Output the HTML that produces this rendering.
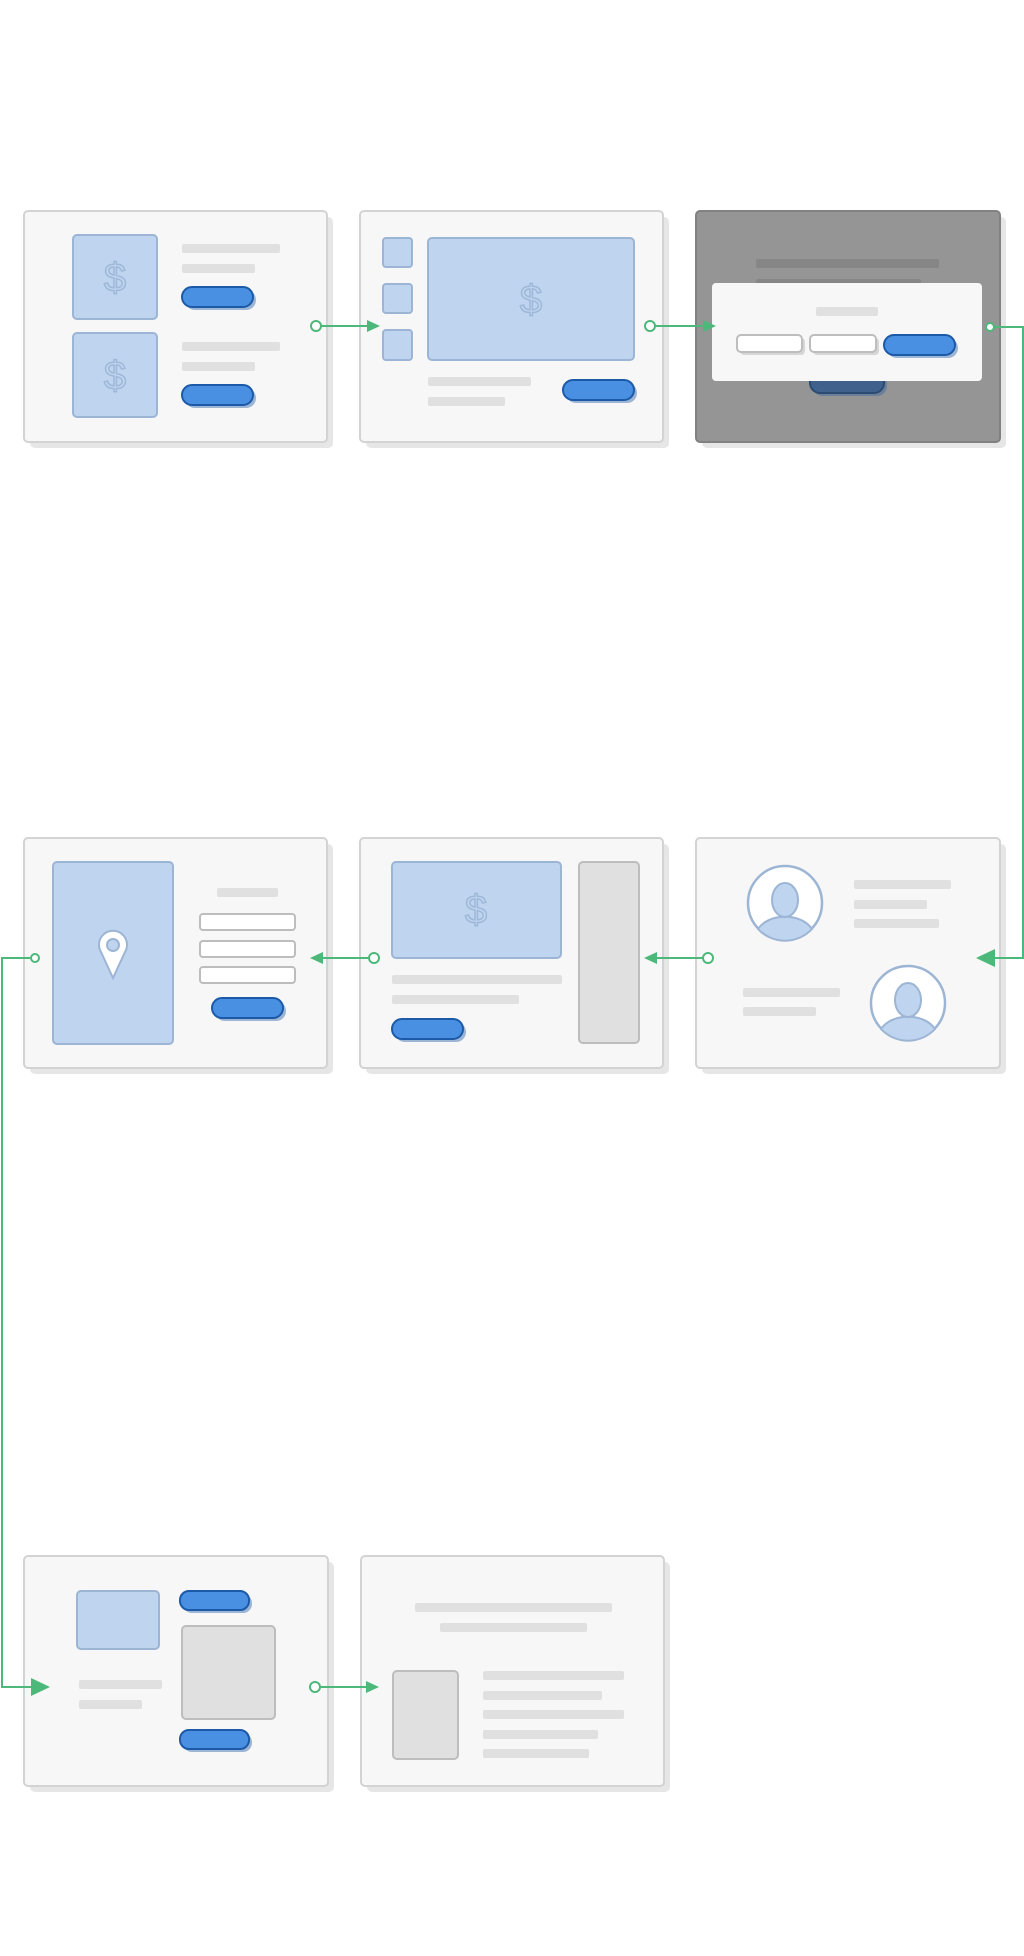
<!DOCTYPE html>
<html><head><meta charset="utf-8"><style>
html,body{margin:0;padding:0;background:#fff;}
svg{display:block;}
text{font-family:"Liberation Sans",sans-serif;}
</style></head><body>
<svg width="1024" height="1956" viewBox="0 0 1024 1956" xmlns="http://www.w3.org/2000/svg">
<defs>
<g id="dollar"><text x="0" y="0" font-size="40" text-anchor="middle" fill="none" stroke="#a0b8d8" stroke-width="1.5">$</text></g>
</defs>
<!-- frames -->
<g fill="#e6e6e6">
<rect x="30" y="217" width="303" height="231" rx="5"/>
<rect x="366" y="217" width="303" height="231" rx="5"/>
<rect x="702" y="217" width="304" height="231" rx="5"/>
<rect x="30" y="844" width="303" height="230" rx="5"/>
<rect x="366" y="844" width="303" height="230" rx="5"/>
<rect x="702" y="844" width="304" height="230" rx="5"/>
<rect x="30" y="1562" width="304" height="230" rx="5"/>
<rect x="367" y="1562" width="303" height="230" rx="5"/>
</g>
<g fill="#f7f7f7" stroke="#d3d3d3" stroke-width="2">
<rect x="24" y="211" width="303" height="231" rx="4"/>
<rect x="360" y="211" width="303" height="231" rx="4"/>
<rect x="24" y="838" width="303" height="230" rx="4"/>
<rect x="360" y="838" width="303" height="230" rx="4"/>
<rect x="696" y="838" width="304" height="230" rx="4"/>
<rect x="24" y="1556" width="304" height="230" rx="4"/>
<rect x="361" y="1556" width="303" height="230" rx="4"/>
</g>
<rect x="696" y="211" width="304" height="231" rx="4" fill="#959595" stroke="#818181" stroke-width="2"/>

<!-- Frame 1 -->
<g fill="#bed4ef" stroke="#9db5d4" stroke-width="2">
<rect x="73" y="235" width="84" height="84" rx="4"/>
<rect x="73" y="333" width="84" height="84" rx="4"/>
</g>
<use href="#dollar" x="115" y="291"/>
<use href="#dollar" x="115" y="389"/>
<g fill="#e0e0e0">
<rect x="182" y="244" width="98" height="9" rx="2"/>
<rect x="182" y="264" width="73" height="9" rx="2"/>
<rect x="182" y="342" width="98" height="9" rx="2"/>
<rect x="182" y="362" width="73" height="9" rx="2"/>
</g>
<g>
<rect x="185" y="290" width="71" height="20" rx="10" fill="#9db5d4"/>
<rect x="182" y="287" width="71" height="20" rx="10" fill="#4a90e2" stroke="#1c5aa8" stroke-width="2"/>
<rect x="185" y="388" width="71" height="20" rx="10" fill="#9db5d4"/>
<rect x="182" y="385" width="71" height="20" rx="10" fill="#4a90e2" stroke="#1c5aa8" stroke-width="2"/>
</g>

<!-- Frame 2 -->
<g fill="#bed4ef" stroke="#9db5d4" stroke-width="2">
<rect x="383" y="238" width="29" height="29" rx="3"/>
<rect x="383" y="284" width="29" height="29" rx="3"/>
<rect x="383" y="330" width="29" height="30" rx="3"/>
<rect x="428" y="238" width="206" height="122" rx="4"/>
</g>
<use href="#dollar" x="531" y="313"/>
<g fill="#e0e0e0">
<rect x="428" y="377" width="103" height="9" rx="2"/>
<rect x="428" y="397" width="77" height="9" rx="2"/>
</g>
<rect x="566" y="383" width="71" height="20" rx="10" fill="#9db5d4"/>
<rect x="563" y="380" width="71" height="20" rx="10" fill="#4a90e2" stroke="#1c5aa8" stroke-width="2"/>

<!-- Frame 3 -->
<g fill="#868686">
<rect x="756" y="259" width="183" height="9" rx="2"/>
<rect x="756" y="279" width="165" height="9" rx="2"/>
</g>
<rect x="813" y="374" width="74" height="22" rx="10" fill="#6b7f99"/>
<rect x="810" y="371" width="74" height="22" rx="10" fill="#3f618c" stroke="#2d4a70" stroke-width="2"/>
<rect x="712" y="283" width="270" height="98" rx="4" fill="#f7f7f7"/>
<rect x="816" y="307" width="62" height="9" rx="2" fill="#e0e0e0"/>
<g>
<rect x="740" y="338" width="65" height="17" rx="4" fill="#d6d6d6"/>
<rect x="737" y="335" width="65" height="17" rx="4" fill="#fff" stroke="#bdbdbd" stroke-width="2"/>
<rect x="813" y="338" width="66" height="17" rx="4" fill="#d6d6d6"/>
<rect x="810" y="335" width="66" height="17" rx="4" fill="#fff" stroke="#bdbdbd" stroke-width="2"/>
<rect x="887" y="338" width="71" height="20" rx="10" fill="#9db5d4"/>
<rect x="884" y="335" width="71" height="20" rx="10" fill="#4a90e2" stroke="#1c5aa8" stroke-width="2"/>
</g>

<!-- Row 2 Frame A -->
<rect x="53" y="862" width="120" height="182" rx="4" fill="#bed4ef" stroke="#9db5d4" stroke-width="2"/>
<path d="M113 978 L101 952 A14 14 0 1 1 125 952 Z" fill="#fff" stroke="#9db5d4" stroke-width="2"/>
<circle cx="113" cy="945" r="6" fill="#bed4ef" stroke="#9db5d4" stroke-width="2"/>
<rect x="217" y="888" width="61" height="9" rx="2" fill="#e0e0e0"/>
<g fill="#fff" stroke="#bdbdbd" stroke-width="2">
<rect x="200" y="914" width="95" height="16" rx="3"/>
<rect x="200" y="941" width="95" height="16" rx="3"/>
<rect x="200" y="967" width="95" height="16" rx="3"/>
</g>
<rect x="215" y="1001" width="71" height="20" rx="10" fill="#9db5d4"/>
<rect x="212" y="998" width="71" height="20" rx="10" fill="#4a90e2" stroke="#1c5aa8" stroke-width="2"/>

<!-- Frame B -->
<rect x="392" y="862" width="169" height="96" rx="4" fill="#bed4ef" stroke="#9db5d4" stroke-width="2"/>
<use href="#dollar" x="476" y="923"/>
<rect x="579" y="862" width="60" height="181" rx="4" fill="#e0e0e0" stroke="#bdbdbd" stroke-width="2"/>
<g fill="#e0e0e0">
<rect x="392" y="975" width="170" height="9" rx="2"/>
<rect x="392" y="995" width="127" height="9" rx="2"/>
</g>
<rect x="395" y="1022" width="71" height="20" rx="10" fill="#9db5d4"/>
<rect x="392" y="1019" width="71" height="20" rx="10" fill="#4a90e2" stroke="#1c5aa8" stroke-width="2"/>

<!-- Frame C -->
<g id="av1">
<circle cx="785" cy="903" r="37" fill="#fff" stroke="#9db5d4" stroke-width="2.5"/>
<path d="M758 929 A30 22 0 0 1 812 929 A37 37 0 0 1 758 929 Z" fill="#bed4ef" stroke="#9db5d4" stroke-width="2"/>
<ellipse cx="785" cy="900" rx="13" ry="17" fill="#bed4ef" stroke="#9db5d4" stroke-width="2"/>
</g>
<g>
<circle cx="908" cy="1003" r="37" fill="#fff" stroke="#9db5d4" stroke-width="2.5"/>
<path d="M881 1029 A30 22 0 0 1 935 1029 A37 37 0 0 1 881 1029 Z" fill="#bed4ef" stroke="#9db5d4" stroke-width="2"/>
<ellipse cx="908" cy="1000" rx="13" ry="17" fill="#bed4ef" stroke="#9db5d4" stroke-width="2"/>
</g>
<g fill="#e0e0e0">
<rect x="854" y="880" width="97" height="9" rx="2"/>
<rect x="854" y="900" width="73" height="9" rx="2"/>
<rect x="854" y="919" width="85" height="9" rx="2"/>
<rect x="743" y="988" width="97" height="9" rx="2"/>
<rect x="743" y="1007" width="73" height="9" rx="2"/>
</g>

<!-- Row 3 Frame 1 -->
<rect x="77" y="1591" width="82" height="58" rx="4" fill="#bed4ef" stroke="#9db5d4" stroke-width="2"/>
<rect x="183" y="1594" width="69" height="19" rx="9" fill="#9db5d4"/>
<rect x="180" y="1591" width="69" height="19" rx="9" fill="#4a90e2" stroke="#1c5aa8" stroke-width="2"/>
<rect x="182" y="1626" width="93" height="93" rx="4" fill="#e0e0e0" stroke="#bdbdbd" stroke-width="2"/>
<rect x="183" y="1733" width="69" height="19" rx="9" fill="#9db5d4"/>
<rect x="180" y="1730" width="69" height="19" rx="9" fill="#4a90e2" stroke="#1c5aa8" stroke-width="2"/>
<g fill="#e0e0e0">
<rect x="79" y="1680" width="83" height="9" rx="2"/>
<rect x="79" y="1700" width="63" height="9" rx="2"/>
</g>

<!-- Row 3 Frame 2 -->
<g fill="#e0e0e0">
<rect x="415" y="1603" width="197" height="9" rx="2"/>
<rect x="440" y="1623" width="147" height="9" rx="2"/>
<rect x="483" y="1671" width="141" height="9" rx="2"/>
<rect x="483" y="1691" width="119" height="9" rx="2"/>
<rect x="483" y="1710" width="141" height="9" rx="2"/>
<rect x="483" y="1730" width="115" height="9" rx="2"/>
<rect x="483" y="1749" width="106" height="9" rx="2"/>
</g>
<rect x="393" y="1671" width="65" height="88" rx="4" fill="#e0e0e0" stroke="#bdbdbd" stroke-width="2"/>

<!-- connectors -->
<g stroke="#4cb87a" stroke-width="2" fill="none">
<line x1="321" y1="326" x2="370" y2="326"/>
<line x1="655" y1="326" x2="706" y2="326"/>
<polyline points="994,327 1023,327 1023,958 985,958"/>
<line x1="703" y1="958" x2="654" y2="958"/>
<line x1="369" y1="958" x2="320" y2="958"/>
<polyline points="30,958 2,958 2,1687 36,1687"/>
<line x1="320" y1="1687" x2="369" y2="1687"/>
</g>
<g fill="#4cb87a">
<polygon points="380,326 367,320 367,332"/>
<polygon points="716,326 703,320 703,332"/>
<polygon points="976,958 995,949 995,967"/>
<polygon points="644,958 657,952 657,964"/>
<polygon points="310,958 323,952 323,964"/>
<polygon points="50,1687 31,1678 31,1696"/>
<polygon points="379,1687 366,1681 366,1693"/>
</g>
<g fill="#fff" stroke="#4cb87a" stroke-width="2">
<circle cx="316" cy="326" r="5"/>
<circle cx="650" cy="326" r="5"/>
<circle cx="990" cy="327" r="4"/>
<circle cx="708" cy="958" r="5"/>
<circle cx="374" cy="958" r="5"/>
<circle cx="35" cy="958" r="4"/>
<circle cx="315" cy="1687" r="5"/>
</g>
</svg>
</body></html>
